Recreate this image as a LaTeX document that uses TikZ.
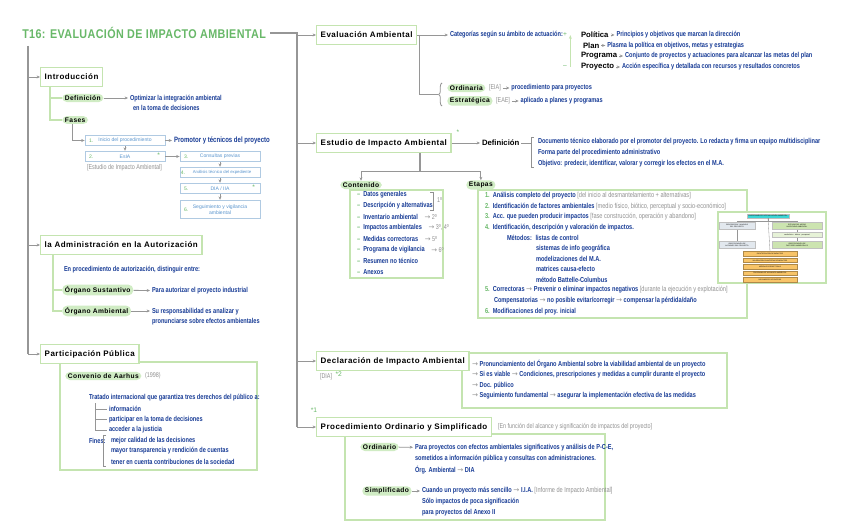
\documentclass[tikz,border=0pt]{standalone}
\usepackage{fontspec}
\setmainfont{Liberation Sans}
\newfontfamily\handfont[FakeStretch=0.78]{Liberation Sans}
\newfontfamily\headfont[LetterSpace=6]{Liberation Sans}
\newfontfamily\titlefont[FakeStretch=0.85,LetterSpace=3]{Liberation Sans}
\newfontfamily\symfont{DejaVu Sans}
\usetikzlibrary{arrows.meta,positioning,decorations.pathreplacing}

\definecolor{titlegreen}{RGB}{104,184,104}
\definecolor{boxgreen}{RGB}{196,228,176}
\definecolor{pillgreen}{RGB}{208,236,196}
\definecolor{handblue}{RGB}{24,60,150}
\definecolor{linegray}{RGB}{150,150,150}
\definecolor{notegray}{RGB}{145,145,145}
\definecolor{flowblue}{RGB}{176,202,226}
\definecolor{flowtext}{RGB}{92,150,206}
\definecolor{minicyan}{RGB}{60,214,214}
\definecolor{miniorange}{RGB}{248,196,104}
\definecolor{minigreen}{RGB}{204,228,176}
\definecolor{minigray}{RGB}{226,232,238}

\newcommand{\arr}{{\symfont\mdseries\color{linegray}→}}
\newcommand{\grnote}[1]{\textcolor{notegray}{\mdseries#1}}
\newcommand{\numg}[1]{\textcolor{titlegreen}{#1}}

\begin{document}
\begin{tikzpicture}[x=0.75pt,y=-0.75pt,
  mainbox/.style={draw=boxgreen,line width=1.1pt,fill=white,anchor=west,inner xsep=3pt,minimum height=14.5pt,font=\headfont\bfseries\fontsize{6}{7}\selectfont},
  pill/.style={fill=pillgreen,rounded corners=3.5pt,anchor=west,inner xsep=2pt,inner ysep=1.2pt,font=\headfont\bfseries\fontsize{5}{6}\selectfont},
  hand/.style={text=handblue,anchor=west,align=left,inner sep=0pt,outer sep=1.5pt,font=\handfont\bfseries\fontsize{5.4}{8}\selectfont},
  note/.style={text=notegray,anchor=west,inner sep=0pt,outer sep=1.5pt,font=\handfont\fontsize{5.2}{8}\selectfont},
  term/.style={anchor=west,inner sep=0pt,outer sep=1.5pt,font=\bfseries\fontsize{5.8}{7}\selectfont},
  star/.style={text=titlegreen,inner sep=0pt,font=\fontsize{5}{6}\selectfont},
  flowbox/.style={draw=flowblue,line width=0.6pt,fill=white,minimum width=60pt,minimum height=8pt,inner sep=0.5pt,align=center,text=flowtext,font=\fontsize{3.8}{4.8}\selectfont},
  flownum/.style={text=titlegreen,inner sep=0pt,font=\fontsize{3.8}{4.8}\selectfont},
  minibox/.style={draw=linegray!60,line width=0.2pt,inner sep=0pt,align=center,font=\fontsize{1.3}{1.6}\selectfont},
  panel/.style={draw=boxgreen,line width=1pt,fill=white},
  trunk/.style={draw=linegray,line width=0.8pt},
  sub/.style={draw=boxgreen,line width=0.9pt},
  link/.style={draw=linegray,line width=0.6pt,-{Stealth[length=2.5pt,width=2.2pt]}}]

\useasboundingbox (0,0) rectangle (848,530);
\fill[white] (0,0) rectangle (848,530);

\node[anchor=west,inner sep=0pt,text=titlegreen,font=\titlefont\bfseries\fontsize{9.5}{11}\selectfont] (title) at (22,33) {T16: EVALUACIÓN DE IMPACTO AMBIENTAL};
\coordinate (trunkR) at (297,33);
\coordinate (trunkL) at (28,46);
\draw[trunk] ([xshift=3pt]title.east) -- (trunkR) -- (297,427);
\draw[trunk] (trunkL) -- (28,354);

\draw[panel] (60,362) rectangle (257,470);
\draw[panel] (350,190) rectangle (443,278);
\draw[panel] (478,190) rectangle (747,318);
\draw[panel] (462,353) rectangle (727,408);
\draw[panel] (345,434) rectangle (605,520);
\draw[panel,line width=0.8pt] (718,212) rectangle (826,283);

\node[mainbox] (intro) at (40,77) {Introducción};
\node[mainbox] (admin) at (40,245) {la Administración en la Autorización};
\node[mainbox] (partic) at (40,354) {Participación Pública};
\node[mainbox] (evalA) at (316,35) {Evaluación Ambiental};
\node[mainbox] (esia) at (316,143) {Estudio de Impacto Ambiental};
\node[mainbox] (dia) at (316,361) {Declaración de Impacto Ambiental};
\node[mainbox] (proc) at (316,427) {Procedimiento Ordinario y Simplificado};
\foreach \b in {intro,admin,partic} \draw[link] (trunkL |- \b.west) -- (\b.west);
\foreach \b in {evalA,esia,dia,proc} \draw[link] (trunkR |- \b.west) -- (\b.west);

% Introduccion
\node[pill] (defp) at (62,98) {Definición};
\node[pill] (fases) at (62,120) {Fases};
\draw[sub] ([xshift=7.5pt]intro.south west) |- (defp.west);
\draw[sub] ([xshift=7.5pt]intro.south west) |- (fases.west);
\node[hand] (deft) at (128,103) {Optimizar la integración ambiental\\\ \ en la toma de decisiones};
\draw[link] (defp.east) -- (deft.west |- defp.east);

\node[flowbox] (f1) at (125,140.5) {Inicio del procedimiento};
\node[flowbox] (f2) at (125,156.5) {EsIA};
\node[note] (f2n) at (85,168) {[Estudio de Impacto Ambiental]};
\node[flowbox] (f3) at (220,156.5) {Consultas previas};
\node[flowbox,font=\fontsize{3.2}{4}\selectfont] (f4) at (220,172.5) {\hspace{3pt}Análisis técnico del expediente};
\node[flowbox] (f5) at (220,188.5) {DIA / IIA};
\node[flowbox,minimum height=14pt] (f6) at (220,209.5) {Seguimiento y vigilancia\\ambiental};
\foreach \b/\n in {f1/1,f2/2,f3/3,f5/5,f6/6} \node[flownum] at ([xshift=5pt]\b.west) {\n.};
\node[flownum] at ([xshift=2.6pt]f4.west) {4.};
\node[star] at ([xshift=-5pt,yshift=1pt]f2.east) {*};
\node[star] at ([xshift=-5pt,yshift=1pt]f5.east) {*};
\draw[draw=linegray,line width=0.6pt] ([xshift=7.5pt]fases.south west) |- ([xshift=-3pt]f1.west);
\draw[link] ([xshift=-3pt]f1.west) -- (f1.west);
\foreach \a/\b in {f1/f2,f2/f3,f3/f4,f4/f5,f5/f6} \draw[link] (\a) -- (\b);
\node[hand,font=\handfont\bfseries\fontsize{5.8}{7}\selectfont] (promo) at (172,140.5) {Promotor y técnicos del proyecto};
\draw[link] (f1) -- (promo);

% Administracion
\node[hand] (admt) at (62,270) {En procedimiento de autorización, distinguir entre:};
\node[pill] (osus) at (62,290) {Órgano Sustantivo};
\node[pill] (oamb) at (62,311) {Órgano Ambiental};
\draw[sub] ([xshift=9.75pt]admin.south west) |- (osus.west);
\draw[sub] ([xshift=9.75pt]admin.south west) |- (oamb.west);
\node[hand] (osust) at (150,291) {Para autorizar el proyecto industrial};
\node[hand] (oambt) at (150,316.5) {Su responsabilidad es analizar y\\pronunciarse sobre efectos ambientales};
\draw[link] (osus) -- (osust);
\draw[link] (oamb.east) -- (oambt.west |- oamb.east);

% Participacion
\node[pill] (aarhus) at (65,376) {Convenio de Aarhus};
\node[note,right=1pt of aarhus] (aarhusy) {(1998)};
\node[hand] (trat) at (87,398) {Tratado internacional que garantiza tres derechos del público a:};
\node[hand] (der1) at (107,409) {información};
\node[hand] (der2) at (107,419.5) {participar en la toma de decisiones};
\node[hand] (der3) at (107,430) {acceder a la justicia};
\foreach \d in {der1,der2,der3} \draw[draw=linegray,line width=0.5pt] ([xshift=6pt]trat.south west) |- (\d.west);
\node[hand] (fines) at (87,440.5) {Fines:};
\draw[notegray,line width=0.5pt] (106,435) -- (103,435) -- (103,466) -- (106,466);
\node[hand] (fin1) at (109,440.5) {mejor calidad de las decisiones};
\node[hand] (fin2) at (109,451) {mayor transparencia y rendición de cuentas};
\node[hand] (fin3) at (109,461.5) {tener en cuenta contribuciones de la sociedad};

% Evaluacion Ambiental
\node[hand] (cat) at (448,35) {Categorías según su ámbito de actuación:};
\draw[link] (evalA) -- (cat);
\node[star] (plus) at (565,35) {+};
\node[star] (minus) at (565,67) {–};
\draw[sub,-{Stealth[length=3pt]}] ([xshift=4pt]minus.center) -- ([xshift=4pt]plus.center);
\node[term] (pol) at (579,35) {Política};
\node[hand,right=3pt of pol] (dpol) {Principios y objetivos que marcan la dirección};
\node[term] (plan) at (581,45.5) {Plan};
\node[hand,right=3pt of plan] (dplan) {Plasma la política en objetivos, metas y estrategias};
\node[term] (prog) at (579,56) {Programa};
\node[hand,right=3pt of prog] (dprog) {Conjunto de proyectos y actuaciones para alcanzar las metas del plan};
\node[term] (proy) at (579,67) {Proyecto};
\node[hand,right=3pt of proy] (dproy) {Acción específica y detallada con recursos y resultados concretos};
\foreach \n in {pol,plan,prog,proy} \draw[link] (\n) -- (d\n);

\coordinate (evbrace) at (438,94.5);
\draw[notegray,line width=0.6pt,decorate,decoration={brace,amplitude=2.5pt}] (442,106) -- (442,83);
\draw[trunk] ([xshift=1.5pt]evalA.east) |- (evbrace);
\node[pill] (ordp) at (447,88) {Ordinaria};
\node[note,right=1pt of ordp] (ordn) {[EIA]};
\node[hand,right=5pt of ordn] (ordt) {procedimiento para proyectos};
\draw[link] (ordn) -- (ordt);
\node[pill] (estp) at (447,101) {Estratégica};
\node[note,right=1pt of estp] (estn) {[EAE]};
\node[hand,right=5pt of estn] (estt) {aplicado a planes y programas};
\draw[link] (estn) -- (estt);

% Estudio de Impacto Ambiental
\node[star] at (458,132) {*};
\node[term] (esdef) at (480,143) {Definición};
\draw[link] (esia) -- (esdef);
\draw[notegray,line width=0.5pt] (534,137) -- (531,137) -- (531,167) -- (534,167);
\node[hand] (esdeft) at (536,152.5) {Documento técnico elaborado por el promotor del proyecto. Lo redacta y firma un equipo multidisciplinar\\Forma parte del procedimiento administrativo\\Objetivo: predecir, identificar, valorar y corregir los efectos en el M.A.};
\draw[trunk,line width=0.6pt] (esdef.east) -- ([xshift=-4pt]esdeft.west |- esdef.east);

\coordinate (essplit) at (420,171);
\draw[trunk] (esia.south -| essplit) -- (essplit);
\node[pill] (contp) at (340,185) {Contenido};
\node[pill] (etap) at (466,185) {Etapas};
\draw[link] (essplit) -| (contp);
\draw[link] (essplit) -| (etap);

\foreach \t [count=\k] in {Datos generales,Descripción y alternativas,Inventario ambiental,Impactos ambientales,Medidas correctoras,Programa de vigilancia,Resumen no técnico,Anexos}
  \node[hand] (c\k) at (355,184+11*\k) {\textcolor{titlegreen}{–}\ \ \t};
\draw[notegray,line width=0.5pt] (430,192) -- (433,192) -- (433,210) -- (430,210);
\node[note] at (435,200) {1º};
\node[note,right=2pt of c3] {\arr\ 2º};
\node[note,right=2pt of c4] {\arr\ 3º, 4º};
\node[note,right=2pt of c5] {\arr\ 5º};
\node[note,right=2pt of c6] {\arr\ 6º};

\node[hand] (e1) at (483,196) {\numg{1.}\ \ Análisis completo del proyecto \grnote{[del inicio al desmantelamiento + alternativas]}};
\node[hand] (e2) at (483,206.5) {\numg{2.}\ \ Identificación de factores ambientales \grnote{[medio físico, biótico, perceptual y socio-económico]}};
\node[hand] (e3) at (483,217) {\numg{3.}\ \ Acc. que pueden producir impactos \grnote{[fase construcción, operación y abandono]}};
\node[hand] (e4) at (483,227.5) {\numg{4.}\ \ Identificación, descripción y valoración de impactos.};
\node[hand] (m1) at (505,238) {Métodos: \ listas de control};
\node[hand] (m2) at (534,248.5) {sistemas de info geográfica};
\node[hand] (m3) at (534,259) {modelizaciones del M.A.};
\node[hand] (m4) at (534,269) {matrices causa-efecto};
\node[hand] (m5) at (534,279.5) {método Battelle-Columbus};
\node[hand] (e5) at (483,290) {\numg{5.}\ \ Correctoras \arr\ Prevenir o eliminar impactos negativos \grnote{[durante la ejecución y explotación]}};
\node[hand] (e5b) at (492,301) {Compensatorias \arr\ no posible evitar/corregir \arr\ compensar la pérdida/daño};
\node[hand] (e6) at (483,311.5) {\numg{6.}\ \ Modificaciones del proy. inicial};

\node[minibox,fill=minicyan,minimum width=32pt,minimum height=3pt] (mtop) at (768,216) {PROCEDIMIENTO DE EVALUACIÓN AMBIENTAL};
\node[minibox,fill=minigray,minimum width=27pt,minimum height=5.2pt] (mg1) at (737,226) {DESCRIPCIÓN Y ANÁLISIS\\DEL PROYECTO};
\node[minibox,fill=minigray,minimum width=27pt,minimum height=5.2pt] (mg2) at (737,245) {IDENTIFICACIÓN DE\\ACCIONES DEL PROYECTO};
\node[minibox,fill=minigreen,minimum width=37.5pt,minimum height=5.2pt] (mr1) at (797,226) {ESTUDIO DEL MEDIO\\INVENTARIO AMBIENTAL};
\node[minibox,fill=minigreen!50,minimum width=37.5pt,minimum height=3.6pt] (mr2) at (797,235) {medio físico · biótico · perceptual};
\node[minibox,fill=minigreen,minimum width=37.5pt,minimum height=5.2pt] (mr3) at (797,245) {IDENTIFICACIÓN DE\\FACTORES AMBIENTALES};
\foreach \t [count=\k] in {IDENTIFICACIÓN DE IMPACTOS,VALORACIÓN CUALITATIVA DE IMPACTOS,MEDIDAS CORRECTORAS,PROGRAMA DE VIGILANCIA AMBIENTAL,DOCUMENTO DE SÍNTESIS}
  \node[minibox,draw=miniorange!70!black,fill=miniorange,minimum width=40.5pt,minimum height=3.4pt] (mo\k) at (770,247.5+6.4*\k) {\t};
\draw[linegray,line width=0.25pt] (mtop.south) -- ++(0,3) -| (mg1.north);
\draw[linegray,line width=0.25pt] (mtop.south) ++(0,3) -| (mr1.north);
\draw[linegray,line width=0.25pt] (mtop.south) -- (mo1.north);
\draw[linegray,line width=0.25pt] (mg1) -- (mg2);
\draw[linegray,line width=0.25pt] (mr1) -- (mr2) -- (mr3);

% Declaracion
\node[note] (dian) at (318,377) {[DIA]};
\node[star,right=1pt of dian,yshift=2pt] {*2};
\node[hand] (dia1) at (470,364) {\arr\ Pronunciamiento del Órgano Ambiental sobre la viabilidad ambiental de un proyecto};
\node[hand] (dia2) at (470,375) {\arr\ Si es viable \arr\ Condiciones, prescripciones y medidas a cumplir durante el proyecto};
\node[hand] (dia3) at (470,385.5) {\arr\ Doc. público};
\node[hand] (dia4) at (470,396) {\arr\ Seguimiento fundamental \arr\ asegurar la implementación efectiva de las medidas};

% Procedimiento
\node[star] at (314,410) {*1};
\node[note,right=3pt of proc] (procn) {[En función del alcance y significación de impactos del proyecto]};
\node[pill] (ordi) at (360,447) {Ordinario};
\node[hand] (ordi1) at (413,448) {Para proyectos con efectos ambientales significativos y análisis de P-C-E,};
\node[hand] (ordi2) at (413,459) {sometidos a información pública y consultas con administraciones.};
\node[hand] (ordi3) at (413,470) {Órg. Ambiental \arr\ DIA};
\draw[link] (ordi) -- (ordi1);
\node[pill] (simp) at (362,491) {Simplificado};
\node[hand] (simp1) at (420,491) {Cuando un proyecto más sencillo \arr\ I.I.A. \grnote{[Informe de Impacto Ambiental]}};
\node[hand] (simp2) at (420,502) {Sólo impactos de poca significación};
\node[hand] (simp3) at (420,513) {para proyectos del Anexo II};
\draw[link] (simp) -- (simp1);
\end{tikzpicture}
\end{document}
